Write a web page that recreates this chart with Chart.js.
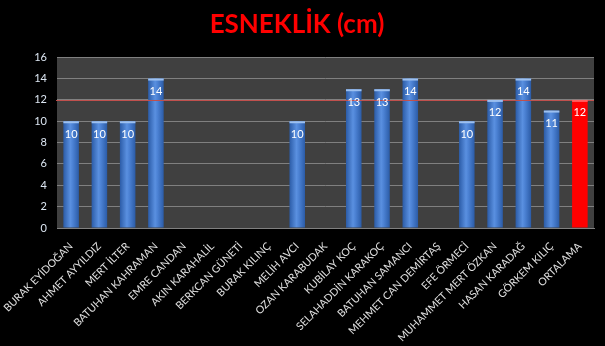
<!DOCTYPE html>
<html>
<head>
<meta charset="utf-8">
<script src="https://cdn.jsdelivr.net/npm/chart.js@4"></script>
<style>
    html, body { margin: 0; padding: 0; background: #000; }
    #wrap { width: 605px; height: 346px; }
</style>
</head>
<body>
<div id="wrap"><canvas id="chart" width="605" height="346"></canvas></div>
<script>
// names of the students on the x axis
const names = [
    'BURAK EYİDOĞAN', 'AHMET AYYILDIZ', 'MERT İLTER', 'BATUHAN KAHRAMAN',
    'EMRE CANDAN', 'AKIN KARAHALİL', 'BERKCAN GÜNETİ', 'BURAK KILINÇ',
    'MELİH AVCI', 'OZAN KARABUDAK', 'KUBİLAY KOÇ', 'SELAHADDİN KARAKOÇ',
    'BATUHAN SAMANCI', 'MEHMET CAN DEMİRTAŞ', 'EFE ÖRMECİ', 'MUHAMMET MERT ÖZKAN',
    'HASAN KARADAĞ', 'GÖRKEM KILIÇ', 'ORTALAMA'
];
// flexibility in cm (null = no measurement)
const esneklik = [10, 10, 10, 14, null, null, null, null, 10, null, 13, 13, 14, null, 10, 12, 14, 11, 12];
const ortalama = 12;
const yTicks = [0, 2, 4, 6, 8, 10, 12, 14, 16];

function barFill(context) {
    const chart = context.chart;
    const isAvg = context.dataIndex === names.length - 1;
    if (isAvg) return '#ff0000';
    const xScale = chart.scales && chart.scales.x;
    if (!xScale || !chart.chartArea) return '#4a7fd0';
    const cx = xScale.getPixelForValue(context.dataIndex);
    if (!Number.isFinite(cx)) return '#4a7fd0';
    const w = 8;
    const g = chart.ctx.createLinearGradient(cx - w, 0, cx + w, 0);
    g.addColorStop(0, '#2a5aa5');
    g.addColorStop(0.45, '#5a90e0');
    g.addColorStop(0.6, '#4c82d4');
    g.addColorStop(1, '#2a5aa5');
    return g;
}

const plotBackground = {
    id: 'plotBackground',
    beforeDraw(chart) {
        const { ctx, chartArea } = chart;
        ctx.save();
        ctx.fillStyle = '#000';
        ctx.fillRect(0, 0, chart.width, chart.height);
        ctx.fillStyle = '#404040';
        ctx.fillRect(chartArea.left, chartArea.top, chartArea.right - chartArea.left, chartArea.bottom - chartArea.top);
        ctx.restore();
    }
};

// average line and value labels inside the bars
const overlays = {
    id: 'overlays',
    afterDatasetsDraw(chart) {
        const { ctx, chartArea, scales } = chart;
        const y = Math.round(scales.y.getPixelForValue(ortalama)) + 0.5;
        ctx.save();
        ctx.strokeStyle = '#c0504d';
        ctx.lineWidth = 1;
        ctx.beginPath();
        ctx.moveTo(chartArea.left - 1, y);
        ctx.lineTo(chartArea.right, y);
        ctx.stroke();

        const meta = chart.getDatasetMeta(0);
        ctx.font = '11px Lato, sans-serif';
        ctx.textAlign = 'center';
        ctx.textBaseline = 'middle';
        meta.data.forEach((bar, i) => {
            if (esneklik[i] == null) return;
            // light cap on the top of each bar
            const half = bar.width / 2;
            ctx.fillStyle = i === names.length - 1 ? '#ff6060' : '#9cc0f0';
            ctx.fillRect(bar.x - half, bar.y, bar.width, 2);
            ctx.fillStyle = '#ffffff';
            ctx.fillText(String(esneklik[i]), bar.x, bar.y + 13);
        });
        ctx.restore();
    }
};

new Chart(document.getElementById('chart'), {
    type: 'bar',
    data: {
        labels: names,
        datasets: [{
            data: esneklik,
            backgroundColor: barFill,
            borderWidth: 0,
            barPercentage: 0.55,
            categoryPercentage: 1
        }]
    },
    options: {
        responsive: false,
        animation: false,
        layout: { padding: { left: 0, right: 11, top: 0, bottom: 0 } },
        plugins: {
            legend: { display: false },
            tooltip: { enabled: false },
            title: {
                display: true,
                text: 'ESNEKLİK (cm)',
                color: '#ff0000',
                font: { family: 'Lato, sans-serif', size: 26, weight: 'bold' },
                padding: { top: 9, bottom: 17 }
            }
        },
        scales: {
            x: {
                grid: { display: false },
                border: { color: '#808080' },
                ticks: {
                    color: '#e0e0e0',
                    font: { family: 'Lato, sans-serif', size: 10.5 },
                    minRotation: 45,
                    maxRotation: 45,
                    autoSkip: false,
                    padding: 4
                },
                afterFit(scale) { scale.height = 118; }
            },
            y: {
                min: 0,
                max: 16,
                afterBuildTicks(scale) { scale.ticks = yTicks.map(v => ({ value: v })); },
                grid: { color: '#808080', drawTicks: false },
                border: { display: false },
                ticks: {
                    color: '#dce6f2',
                    font: { family: 'Lato, sans-serif', size: 11 },
                    padding: 10
                },
                afterFit(scale) { scale.width = 57; }
            }
        }
    },
    plugins: [plotBackground, overlays]
});
</script>
</body>
</html>
